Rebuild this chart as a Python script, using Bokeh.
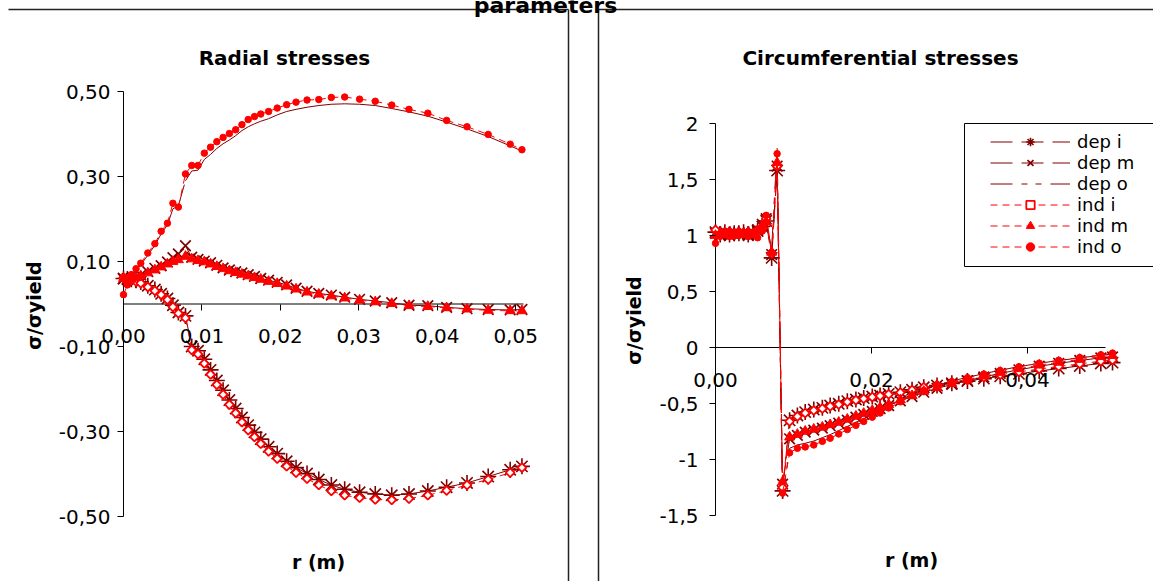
from math import pi

from bokeh.core.properties import value
from bokeh.embed import file_html
from bokeh.models import (ColumnDataSource, CustomJSTickFormatter, FixedTicker,
                          Legend, LegendItem, LinearAxis, Range1d)
from bokeh.plotting import figure
from bokeh.resources import INLINE

# ---------------------------------------------------------------- data
# radial stresses, sigma / sigma_yield against radius r (m)
r_rad = [0.0000, 0.0005, 0.0010, 0.0016, 0.0022, 0.0031, 0.0040, 0.0048, 0.0056, 0.0063,
         0.0070, 0.0079, 0.0087, 0.0095, 0.0103, 0.0111, 0.0119, 0.0127, 0.0135, 0.0143,
         0.0151, 0.0159, 0.0167, 0.0175, 0.0185, 0.0196, 0.0208, 0.0220, 0.0234, 0.0249,
         0.0265, 0.0282, 0.0301, 0.0321, 0.0342, 0.0364, 0.0388, 0.0412, 0.0438, 0.0465,
         0.0493, 0.0508]
dep_i_rad = [0.060, 0.059, 0.058, 0.056, 0.052, 0.043, 0.034, 0.024, 0.013, -0.003,
             -0.020, -0.028, -0.100, -0.110, -0.130, -0.155, -0.180, -0.203, -0.226, -0.246,
             -0.267, -0.285, -0.302, -0.318, -0.336, -0.352, -0.370, -0.385, -0.399, -0.413,
             -0.426, -0.436, -0.443, -0.447, -0.450, -0.447, -0.440, -0.431, -0.421, -0.406,
             -0.390, -0.382]
dep_m_rad = [0.059, 0.058, 0.060, 0.064, 0.068, 0.076, 0.084, 0.090, 0.099, 0.109,
             0.118, 0.137, 0.110, 0.105, 0.101, 0.097, 0.091, 0.085, 0.080, 0.076,
             0.073, 0.069, 0.065, 0.060, 0.056, 0.051, 0.045, 0.037, 0.030, 0.025,
             0.021, 0.016, 0.011, 0.007, 0.003, -0.003, -0.004, -0.008, -0.011, -0.013,
             -0.014, -0.013]
dep_o_rad = [0.040, 0.052, 0.065, 0.079, 0.092, 0.115, 0.138, 0.165, 0.186, 0.224,
             0.231, 0.290, 0.313, 0.315, 0.340, 0.352, 0.366, 0.377, 0.386, 0.396,
             0.408, 0.417, 0.424, 0.430, 0.436, 0.445, 0.453, 0.458, 0.463, 0.467,
             0.470, 0.471, 0.470, 0.467, 0.460, 0.452, 0.442, 0.428, 0.412, 0.394,
             0.372, 0.360]
ind_i_rad = [0.062, 0.058, 0.056, 0.053, 0.049, 0.040, 0.031, 0.022, 0.010, -0.007,
             -0.022, -0.033, -0.108, -0.118, -0.140, -0.166, -0.190, -0.213, -0.237, -0.257,
             -0.278, -0.297, -0.313, -0.329, -0.347, -0.364, -0.382, -0.397, -0.411, -0.426,
             -0.440, -0.450, -0.456, -0.460, -0.461, -0.458, -0.450, -0.439, -0.426, -0.413,
             -0.397, -0.385]
ind_m_rad = [0.060, 0.057, 0.058, 0.062, 0.066, 0.073, 0.080, 0.087, 0.094, 0.100,
             0.104, 0.112, 0.106, 0.102, 0.099, 0.094, 0.088, 0.083, 0.078, 0.074,
             0.070, 0.066, 0.062, 0.058, 0.053, 0.048, 0.042, 0.035, 0.028, 0.023,
             0.019, 0.014, 0.009, 0.005, 0.001, -0.004, -0.006, -0.009, -0.012, -0.015,
             -0.016, -0.016]
ind_o_rad = [0.022, 0.045, 0.069, 0.083, 0.096, 0.120, 0.142, 0.171, 0.190, 0.237,
             0.228, 0.306, 0.326, 0.326, 0.355, 0.369, 0.382, 0.392, 0.401, 0.410,
             0.422, 0.434, 0.441, 0.447, 0.453, 0.461, 0.469, 0.475, 0.480, 0.481,
             0.486, 0.487, 0.482, 0.477, 0.468, 0.458, 0.449, 0.432, 0.417, 0.399,
             0.376, 0.363]

# circumferential stresses
r_circ = [0.0000, 0.0006, 0.0012, 0.0018, 0.0024, 0.0030, 0.0036, 0.0042, 0.0048, 0.0054,
          0.0060, 0.0065, 0.0072, 0.0079, 0.0086, 0.0095, 0.0105, 0.0115, 0.0126, 0.0137,
          0.0147, 0.0158, 0.0169, 0.0180, 0.0190, 0.0201, 0.0211, 0.0222, 0.0237, 0.0252,
          0.0267, 0.0284, 0.0303, 0.0323, 0.0344, 0.0365, 0.0389, 0.0415, 0.0440, 0.0467,
          0.0494, 0.0509]
dep_i_circ = [1.03, 1.01, 1.03, 1.01, 1.02, 1.02, 1.03, 1.01, 1.03, 1.04,
              1.08, 1.13, 0.80, 1.58, -1.28, -0.650, -0.607, -0.577, -0.554, -0.539,
              -0.518, -0.503, -0.479, -0.464, -0.452, -0.438, -0.429, -0.414, -0.399, -0.378,
              -0.355, -0.340, -0.320, -0.300, -0.278, -0.257, -0.235, -0.210, -0.188, -0.165,
              -0.142, -0.135]
dep_m_circ = [1.02, 1.00, 1.02, 1.00, 1.03, 1.01, 1.02, 1.00, 1.02, 1.05,
              1.10, 1.15, 0.83, 1.62, -1.22, -0.815, -0.785, -0.756, -0.738, -0.720,
              -0.698, -0.676, -0.649, -0.622, -0.597, -0.571, -0.545, -0.518, -0.476, -0.438,
              -0.399, -0.365, -0.330, -0.296, -0.263, -0.231, -0.199, -0.167, -0.141, -0.116,
              -0.093, -0.085]
dep_o_circ = [0.98, 1.01, 1.02, 1.00, 1.02, 1.01, 1.02, 1.00, 1.02, 1.01,
              1.06, 1.12, 0.88, 1.78, -1.35, -0.900, -0.870, -0.855, -0.835, -0.805,
              -0.778, -0.742, -0.705, -0.668, -0.635, -0.598, -0.562, -0.520, -0.468, -0.418,
              -0.375, -0.338, -0.300, -0.266, -0.234, -0.203, -0.171, -0.141, -0.116, -0.093,
              -0.070, -0.058]
ind_i_circ = [1.05, 1.00, 1.02, 1.02, 1.01, 1.03, 1.02, 1.02, 1.02, 1.05,
              1.06, 1.15, 0.84, 1.62, -1.25, -0.660, -0.615, -0.585, -0.562, -0.545,
              -0.525, -0.508, -0.486, -0.470, -0.457, -0.443, -0.432, -0.418, -0.402, -0.380,
              -0.355, -0.336, -0.312, -0.290, -0.265, -0.243, -0.218, -0.192, -0.170, -0.146,
              -0.122, -0.112]
ind_m_circ = [1.00, 1.02, 1.01, 1.03, 1.00, 1.02, 1.01, 1.03, 1.01, 1.04,
              1.09, 1.12, 0.85, 1.65, -1.20, -0.800, -0.776, -0.748, -0.730, -0.712,
              -0.690, -0.668, -0.641, -0.614, -0.589, -0.563, -0.537, -0.510, -0.468, -0.430,
              -0.392, -0.358, -0.322, -0.288, -0.255, -0.223, -0.190, -0.158, -0.132, -0.107,
              -0.082, -0.072]
ind_o_circ = [0.93, 1.00, 1.04, 0.99, 1.03, 1.00, 1.02, 0.99, 1.03, 0.98,
              1.04, 1.18, 0.85, 1.73, -1.30, -0.940, -0.900, -0.888, -0.870, -0.838,
              -0.810, -0.772, -0.733, -0.695, -0.660, -0.622, -0.585, -0.540, -0.485, -0.430,
              -0.384, -0.345, -0.305, -0.270, -0.237, -0.205, -0.172, -0.140, -0.114, -0.090,
              -0.065, -0.050]

series_names = ["dep i", "dep m", "dep o", "ind i", "ind m", "ind o"]

# axis limits and ticks
rad_x_lim, rad_y_lim = (0.0, 0.051), (-0.5, 0.5)
rad_x_ticks = [0.0, 0.01, 0.02, 0.03, 0.04, 0.05]
rad_y_ticks = [-0.5, -0.3, -0.1, 0.1, 0.3, 0.5]
circ_x_lim, circ_y_lim = (0.0, 0.05), (-1.5, 2.0)
circ_x_ticks = [0.0, 0.02, 0.04]
circ_y_ticks = [-1.5, -1.0, -0.5, 0.0, 0.5, 1.0, 1.5, 2.0]

# ---------------------------------------------------------------- layout
W, H = 1153, 581
FONT = "DejaVu Sans"
DEP = "#800000"
IND = "#FF0000"

# pixel boxes (left, right, top, bottom) of the two plot areas
RAD_BOX = (123, 523, 91, 516)
CIRC_BOX = (715, 1105, 123, 515)

p = figure(width=W, height=H, x_range=Range1d(0, W), y_range=Range1d(H, 0),
           x_axis_type=None, y_axis_type=None, min_border=0,
           toolbar_location=None, output_backend="svg")
p.outline_line_color = None
p.background_fill_color = "white"
p.border_fill_color = "white"
p.grid.visible = False


def panel_ranges(x_lim, y_lim, box):
    x0, x1, y_top, y_bot = box
    sx = (x1 - x0) / (x_lim[1] - x_lim[0])
    sy = (y_bot - y_top) / (y_lim[1] - y_lim[0])
    xr = Range1d(x_lim[0] - x0 / sx, x_lim[0] + (W - x0) / sx)
    yr = Range1d(y_lim[0] - (H - y_bot) / sy, y_lim[1] + y_top / sy)
    return xr, yr


rxr, ryr = panel_ranges(rad_x_lim, rad_y_lim, RAD_BOX)
cxr, cyr = panel_ranges(circ_x_lim, circ_y_lim, CIRC_BOX)
p.extra_x_ranges = {"rx": rxr, "cx": cxr}
p.extra_y_ranges = {"ry": ryr, "cy": cyr}

# chart-area frames
p.segment(x0=[8, 568, 598, 598], y0=[9, 9, 9, 9], x1=[568, 568, 1153, 598], y1=[9, 581, 9, 581],
          line_color="#222222", line_width=1.5)

FMT2 = "return tick.toFixed(2).replace('.', ',');"
FMT1 = "return String(Math.round(tick * 10) / 10).replace('.', ',');"


def add_axes(xr, yr, x_lim, y_lim, xticks, yticks, yfmt, xfmt, ystand):
    # axis lines span only the plot area
    p.segment(x0=[x_lim[0], 0], y0=[0, y_lim[0]], x1=[x_lim[1], 0], y1=[0, y_lim[1]],
              line_color="black", line_width=1, x_range_name=xr, y_range_name=yr)
    xa = LinearAxis(x_range_name=xr, y_range_name=yr, fixed_location=0,
                    ticker=FixedTicker(ticks=xticks),
                    formatter=CustomJSTickFormatter(code=xfmt))
    ya = LinearAxis(x_range_name=xr, y_range_name=yr, fixed_location=0,
                    ticker=FixedTicker(ticks=yticks),
                    formatter=CustomJSTickFormatter(code=yfmt))
    for a in (xa, ya):
        a.axis_line_color = None
        a.major_tick_in = 0
        a.major_tick_out = 6
        a.major_tick_line_color = "black"
        a.minor_tick_line_color = None
        a.major_label_text_font = FONT
        a.major_label_text_font_size = "20px"
        a.major_label_text_color = "black"
    xa.major_label_standoff = 19
    ya.major_label_standoff = ystand
    p.add_layout(xa, "below")
    p.add_layout(ya, "left")


add_axes("rx", "ry", rad_x_lim, rad_y_lim, rad_x_ticks, rad_y_ticks, FMT2, FMT2, 7)
add_axes("cx", "cy", circ_x_lim, circ_y_lim, circ_x_ticks, circ_y_ticks, FMT1, FMT2, 11)

# legend frame
p.quad(left=[964], right=[1175], top=[123], bottom=[266],
       fill_color="white", line_color="black", line_width=1)

STYLES = {
    "dep i": dict(color=DEP, dash="22 9", marker="asterisk", size=16, fill=DEP, lw=1.6, angle=0),
    "dep m": dict(color=DEP, dash="22 9", marker="x", size=15, fill=DEP, lw=1.7, angle=0),
    "dep o": dict(color=DEP, dash="22 9 6 8 6 9", marker=None, size=0, fill=None, lw=1, angle=0),
    "ind i": dict(color=IND, dash="7 5", marker="square", size=6.2, fill="white", lw=1.8, angle=pi / 4),
    "ind m": dict(color=IND, dash="7 5", marker="triangle", size=10, fill=IND, lw=1, angle=0),
    "ind o": dict(color=IND, dash="7 5", marker="circle", size=6.5, fill=IND, lw=1, angle=0),
}


def draw_series(name, r, v, xr, yr):
    st = STYLES[name]
    src = ColumnDataSource(dict(x0=r[:-1], y0=v[:-1], x1=r[1:], y1=v[1:]))
    rends = [p.segment("x0", "y0", "x1", "y1", source=src, line_color=st["color"],
                       line_width=1, line_dash=st["dash"], x_range_name=xr, y_range_name=yr)]
    if st["marker"]:
        rends.append(p.scatter(r, v, marker=st["marker"], size=st["size"], angle=st["angle"],
                               line_color=st["color"], fill_color=st["fill"], line_width=st["lw"],
                               x_range_name=xr, y_range_name=yr))
    return rends


rad_series = [dep_i_rad, dep_m_rad, dep_o_rad, ind_i_rad, ind_m_rad, ind_o_rad]
circ_series = [dep_i_circ, dep_m_circ, dep_o_circ, ind_i_circ, ind_m_circ, ind_o_circ]

for name, v in zip(series_names, rad_series):
    draw_series(name, r_rad, v, "rx", "ry")

items = []
for name, v in zip(series_names, circ_series):
    items.append(LegendItem(label=name, renderers=draw_series(name, r_circ, v, "cx", "cy")))

legend = Legend(items=items, location=(990, H - 257), border_line_color=None,
                background_fill_alpha=0, padding=0, spacing=0, glyph_width=80,
                glyph_height=21, label_height=21, label_standoff=7,
                label_text_font=FONT, label_text_font_size="18px", label_text_color="black")
p.add_layout(legend)


# titles
def label(x, y, text, size, bold=True, angle=0.0, baseline="alphabetic"):
    p.text(x=[x], y=[y], text=[text], text_font=value(FONT), text_font_size=size,
           text_font_style="bold" if bold else "normal", text_align="center",
           text_baseline=baseline, angle=angle, text_color="black")


label(545, 4.5, "parameters", "22px")
label(284, 57, "Radial stresses", "20px")
label(880, 57, "Circumferential stresses", "20px")
label(318, 561, "r (m)", "19px")
label(911, 559, "r (m)", "19px")
label(33, 305, "σ/σyield", "19px", angle=pi / 2, baseline="middle")
label(633, 320, "σ/σyield", "19px", angle=pi / 2, baseline="middle")

open("out.html", "w").write(file_html(p, INLINE))
